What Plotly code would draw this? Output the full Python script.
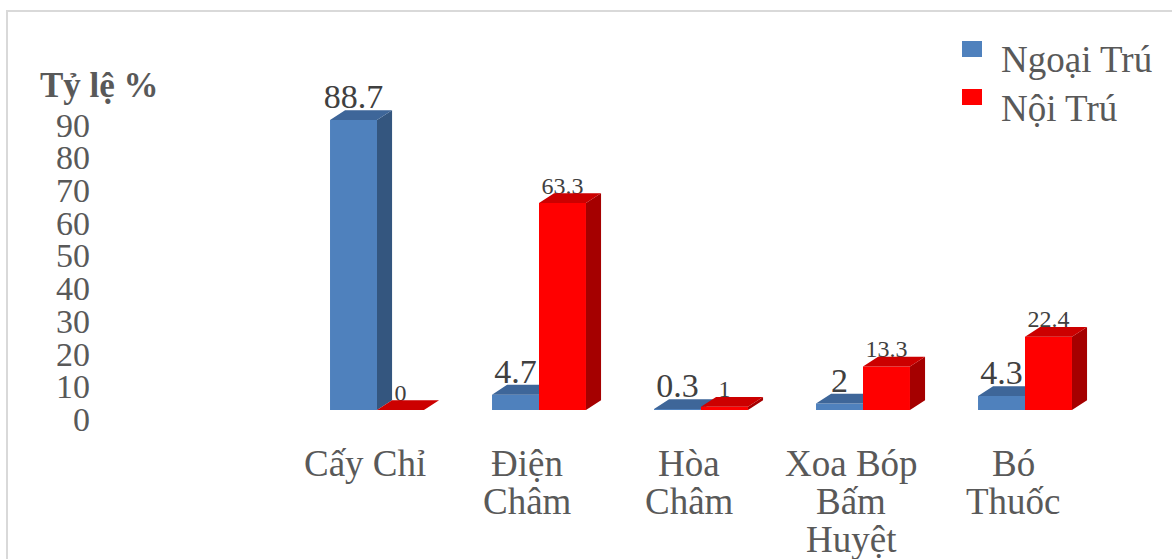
import plotly.graph_objects as go

# ---- data ----
categories = ["Cấy Chỉ", "Điện\nChâm", "Hòa\nChâm", "Xoa Bóp\nBấm\nHuyệt", "Bó\nThuốc"]
series_names = ["Ngoại Trú", "Nội Trú"]
ngoai_tru = [88.7, 4.7, 0.3, 2, 4.3]
noi_tru = [0, 63.3, 1, 13.3, 22.4]
y_ticks = [0, 10, 20, 30, 40, 50, 60, 70, 80, 90]
y_title = "Tỷ lệ %"

# ---- layout geometry ----
W, H = 1172, 559
M = dict(l=90, r=66, t=83, b=149)
PW = W - M["l"] - M["r"]
PH = H - M["t"] - M["b"]
X_DOMAIN = [(296 - M["l"]) / PW, 1]


def px(xpix):
    return (xpix - M["l"]) / PW


def py(ypix):
    return (H - M["b"] - ypix) / PH


FONT = "Liberation Serif"
TEXT_GREY = "#595959"
LABEL_GREY = "#404040"

BAR_W = 0.29      # width of one bar (category units)
DEPTH_X = 0.093   # 3-D depth, horizontal (category units)
DEPTH_Y = 3.0     # 3-D depth, vertical (value units)
LABEL_DROP = 2.0  # value labels tuck slightly behind the top face

STYLES = [
    dict(front="#4F81BD", top="#3E6699", side="#34567F", offset=-BAR_W, label_size=34),
    dict(front="#FF0000", top="#CC0000", side="#A50000", offset=0.0, label_size=24),
]


def faces(values, offset):
    side_x, side_y, top_x, top_y = [], [], [], []
    for i, v in enumerate(values):
        x0 = i + offset
        x1 = x0 + BAR_W
        side_x += [x1, x1 + DEPTH_X, x1 + DEPTH_X, x1, x1, None]
        side_y += [0, DEPTH_Y, v + DEPTH_Y, v, 0, None]
        top_x += [x0, x1, x1 + DEPTH_X, x0 + DEPTH_X, x0, None]
        top_y += [v, v, v + DEPTH_Y, v + DEPTH_Y, v, None]
    return side_x, side_y, top_x, top_y


fig = go.Figure()
xs = list(range(len(categories)))

for k, (name, values) in enumerate(zip(series_names, [ngoai_tru, noi_tru])):
    st = STYLES[k]
    xa = "x" if k == 0 else "x2"
    ya = "y" if k == 0 else "y2"
    # front faces
    fig.add_trace(go.Bar(
        x=xs, y=values, width=BAR_W, offset=st["offset"], name=name,
        marker=dict(color=st["front"], line=dict(width=0)),
        xaxis=xa, yaxis=ya, showlegend=False, hoverinfo="skip",
    ))
    # value labels (sit just behind the top faces)
    fig.add_trace(go.Scatter(
        x=[i + st["offset"] + BAR_W / 2 for i in xs],
        y=[v + DEPTH_Y - LABEL_DROP for v in values],
        mode="text", text=[f"{v:g}" for v in values],
        textposition="top center", cliponaxis=False,
        textfont=dict(family=FONT, size=st["label_size"], color=LABEL_GREY),
        xaxis=xa, yaxis=ya, showlegend=False, hoverinfo="skip",
    ))
    sx, sy, tx, ty = faces(values, st["offset"])
    fig.add_trace(go.Scatter(
        x=sx, y=sy, mode="lines", fill="toself", fillcolor=st["side"],
        line=dict(width=0, color=st["side"]), cliponaxis=False,
        xaxis=xa, yaxis=ya, showlegend=False, hoverinfo="skip",
    ))
    fig.add_trace(go.Scatter(
        x=tx, y=ty, mode="lines", fill="toself", fillcolor=st["top"],
        line=dict(width=0, color=st["top"]), cliponaxis=False,
        xaxis=xa, yaxis=ya, showlegend=False, hoverinfo="skip",
    ))

annotations = []
# category labels, one annotation per line
LINE_PITCH = 38
for i, cat in enumerate(categories):
    for j, line in enumerate(cat.split("\n")):
        annotations.append(dict(
            x=i, xref="x", y=0, yref="paper", text=line, showarrow=False,
            xanchor="center", yanchor="middle", xshift=-12,
            yshift=-(53 + j * LINE_PITCH),
            font=dict(family=FONT, size=37, color=TEXT_GREY),
        ))

# axis title
annotations.append(dict(
    x=px(99), y=py(86), xref="paper", yref="paper", text=f"<b>{y_title}</b>",
    showarrow=False, xanchor="center", yanchor="middle",
    font=dict(family=FONT, size=35, color=TEXT_GREY),
))

# legend
shapes = []
legend_rows = [60, 108]
for k, name in enumerate(series_names):
    cy = legend_rows[k]
    shapes.append(dict(
        type="rect", xref="paper", yref="paper",
        x0=px(962), x1=px(982), y0=py(cy - 19), y1=py(cy - 3),
        fillcolor=STYLES[k]["front"], line=dict(width=0),
    ))
    annotations.append(dict(
        x=px(999), y=py(cy), xref="paper", yref="paper", text=name,
        showarrow=False, xanchor="left", yanchor="middle",
        font=dict(family=FONT, size=37, color=TEXT_GREY),
    ))

# chart frame
shapes.append(dict(
    type="rect", xref="paper", yref="paper",
    x0=px(7), x1=px(1190), y0=py(11), y1=py(580),
    line=dict(color="#D9D9D9", width=2), fillcolor="rgba(0,0,0,0)", layer="below",
))

X_RANGE = [-0.5, len(categories) - 0.5]
Y_RANGE = [0, 100]

fig.update_layout(
    width=W, height=H, margin=M,
    paper_bgcolor="white", plot_bgcolor="white",
    showlegend=False,
    xaxis=dict(domain=X_DOMAIN, range=X_RANGE, visible=False, fixedrange=True),
    xaxis2=dict(overlaying="x", range=X_RANGE, visible=False, fixedrange=True),
    yaxis=dict(
        range=Y_RANGE, anchor="free", position=0,
        tickmode="array", tickvals=y_ticks, ticktext=[str(t) for t in y_ticks],
        tickfont=dict(family=FONT, size=34, color=TEXT_GREY),
        showgrid=False, zeroline=False, showline=False, ticks="",
        ticklabelshift=9, fixedrange=True,
    ),
    yaxis2=dict(overlaying="y", range=Y_RANGE, visible=False, fixedrange=True),
    annotations=annotations, shapes=shapes,
)

fig.write_html("out.html")
